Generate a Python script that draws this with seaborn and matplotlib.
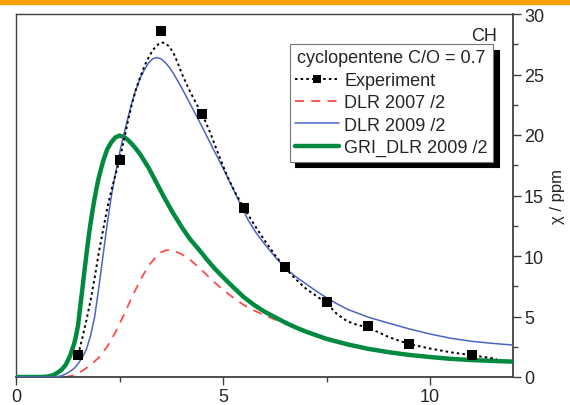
import matplotlib
matplotlib.use("Agg")
import matplotlib.pyplot as plt
from matplotlib.lines import Line2D
from matplotlib.patches import Rectangle
from matplotlib.ticker import MultipleLocator
import seaborn as sns

# ---------------- data ----------------
exp_x = [1.5, 2.5, 3.5, 4.5, 5.5, 6.5, 7.5, 8.5, 9.5, 11.0]
exp_y = [1.8, 17.9, 28.6, 21.7, 14.0, 9.1, 6.2, 4.2, 2.75, 1.85]

expfit_x = [1.5, 1.6, 1.7, 1.8, 1.9, 2.0, 2.1, 2.2, 2.3, 2.4, 2.5, 2.6, 2.7, 2.8,
            2.9, 3.0, 3.1, 3.2, 3.3, 3.4, 3.5, 3.6, 3.7, 3.8, 3.9, 4.0, 4.2, 4.4,
            4.5, 4.7, 4.9, 5.1, 5.3, 5.5, 5.75, 6.0, 6.25, 6.5, 6.75, 7.0, 7.25,
            7.5, 7.75, 8.0, 8.25, 8.5, 8.75, 9.0, 9.25, 9.5, 10.0, 10.5, 11.0,
            11.3, 11.6]
expfit_y = [1.8, 3.2, 4.7, 6.3, 8.2, 10.3, 12.1, 13.9, 15.4, 16.7, 17.9, 19.5,
            21.1, 22.6, 23.8, 24.8, 25.7, 26.4, 27.0, 27.4, 27.65, 27.6, 27.3,
            26.8, 26.0, 25.1, 23.6, 22.3, 21.7, 20.1, 18.3, 16.6, 15.2, 14.0,
            12.6, 11.3, 10.1, 9.0, 8.1, 7.3, 6.7, 6.1, 5.2, 4.6, 4.3, 4.1, 3.7,
            3.3, 3.0, 2.72, 2.35, 2.04, 1.8, 1.65, 1.5]

dlr07_x = [0, 1.2, 1.4, 1.6, 1.8, 2.0, 2.2, 2.4, 2.6, 2.8, 3.0, 3.2, 3.4, 3.5,
           3.6, 3.7, 3.8, 4.0, 4.2, 4.4, 4.6, 4.8, 5.0, 5.25, 5.5, 5.75, 6.0,
           6.5, 7.0, 7.5, 8.0, 8.5, 9.0, 9.5, 10.0, 10.5, 11.0, 11.5, 12.0]
dlr07_y = [0, 0, 0.15, 0.5, 1.0, 1.6, 2.5, 3.7, 5.1, 6.6, 8.0, 9.2, 10.0, 10.3,
           10.45, 10.5, 10.45, 10.15, 9.7, 9.1, 8.45, 7.8, 7.2, 6.55, 5.95, 5.5,
           5.1, 4.4, 3.7, 3.1, 2.65, 2.27, 2.0, 1.78, 1.6, 1.45, 1.35, 1.28, 1.22]

dlr09_x = [0, 0.95, 1.1, 1.2, 1.3, 1.4, 1.5, 1.6, 1.7, 1.8, 1.9, 2.0, 2.1, 2.2,
           2.3, 2.4, 2.5, 2.6, 2.7, 2.8, 2.9, 3.0, 3.1, 3.2, 3.3, 3.4, 3.5, 3.6,
           3.7, 3.8, 3.9, 4.0, 4.2, 4.4, 4.6, 4.8, 5.0, 5.2, 5.4, 5.6, 5.8, 6.0,
           6.25, 6.5, 6.75, 7.0, 7.25, 7.5, 7.75, 8.0, 8.5, 9.0, 9.5, 10.0, 10.5,
           11.0, 11.5, 12.0]
dlr09_y = [0, 0, 0.1, 0.25, 0.45, 0.7, 1.1, 1.6, 2.3, 3.4, 5.0, 7.4, 10.0, 12.6,
           14.9, 16.8, 18.5, 20.0, 21.4, 22.7, 23.8, 24.7, 25.4, 25.95, 26.3,
           26.4, 26.3, 26.0, 25.6, 25.1, 24.5, 23.9, 22.6, 21.3, 19.95, 18.6,
           17.25, 15.85, 14.4, 13.0, 11.9, 11.0, 9.95, 9.0, 8.3, 7.7, 7.1, 6.55,
           6.05, 5.6, 4.95, 4.45, 3.97, 3.55, 3.2, 2.95, 2.78, 2.64]

gri_x = [0, 0.6, 0.75, 0.9, 1.0, 1.1, 1.2, 1.3, 1.4, 1.45, 1.5, 1.55, 1.6, 1.65,
         1.7, 1.75, 1.8, 1.85, 1.9, 1.95, 2.0, 2.1, 2.2, 2.3, 2.4, 2.5, 2.6, 2.7,
         2.8, 2.9, 3.0, 3.2, 3.4, 3.6, 3.8, 4.0, 4.2, 4.4, 4.6, 4.8, 5.0, 5.25,
         5.5, 5.75, 6.0, 6.25, 6.5, 6.75, 7.0, 7.5, 8.0, 8.5, 9.0, 9.5, 10.0,
         10.5, 11.0, 11.5, 12.0]
gri_y = [0, 0, 0.03, 0.15, 0.35, 0.6, 1.0, 1.7, 2.7, 3.4, 4.3, 5.8, 7.2, 8.7,
         10.1, 11.5, 12.7, 13.8, 14.8, 15.7, 16.5, 17.8, 18.8, 19.4, 19.8, 19.95,
         19.85, 19.6, 19.25, 18.85, 18.4, 17.3, 16.0, 14.7, 13.5, 12.4, 11.4,
         10.6, 9.75, 8.95, 8.25, 7.4, 6.6, 5.95, 5.4, 4.95, 4.5, 4.1, 3.75, 3.15,
         2.7, 2.33, 2.05, 1.82, 1.65, 1.5, 1.4, 1.33, 1.27]

legend_title = "cyclopentene C/O = 0.7"
labels = ["Experiment", "DLR 2007 /2", "DLR 2009 /2", "GRI_DLR 2009 /2"]
x_ticks = [0, 5, 10]
y_ticks = [0, 5, 10, 15, 20, 25, 30]

# ---------------- style ----------------
sns.set_style("white")
plt.rcParams["font.family"] = ["Liberation Sans", "DejaVu Sans"]

c_green = "#008a40"
c_blue = "#4c64c4"
c_red = "#ff4a4a"
c_spine = "#404040"

fig = plt.figure(figsize=(5.7, 4.06), dpi=100)
fig.patches.append(Rectangle((0, 1 - 5 / 406), 1, 5 / 406, transform=fig.transFigure,
                             color="#f5a000", zorder=0))
ax = fig.add_axes([16 / 570, 1 - 378 / 406, (513 - 16) / 570, (378 - 15) / 406])

sns.lineplot(x=dlr07_x, y=dlr07_y, ax=ax, color=c_red, lw=1.3, estimator=None,
             sort=False, zorder=2).lines[-1].set_dashes([5, 4])
sns.lineplot(x=gri_x, y=gri_y, ax=ax, color=c_green, lw=3.2, estimator=None,
             sort=False, zorder=3)
sns.lineplot(x=dlr09_x, y=dlr09_y, ax=ax, color=c_blue, lw=1.1, estimator=None,
             sort=False, zorder=4)
sns.lineplot(x=expfit_x, y=expfit_y, ax=ax, color="black", lw=1.4, estimator=None,
             sort=False, zorder=5).lines[-1].set_dashes([1.3, 1.6])
sns.scatterplot(x=exp_x, y=exp_y, ax=ax, marker="s", s=42, color="black",
                edgecolor="black", linewidth=0, zorder=6)

ax.set_xlim(0, 12)
ax.set_ylim(0, 30)
ax.set_xticks(x_ticks)
ax.set_xticklabels([str(t) for t in x_ticks])
ax.set_yticks(y_ticks)
ax.set_yticklabels([str(t) for t in y_ticks])
ax.xaxis.set_minor_locator(MultipleLocator(2.5))
ax.yaxis.set_minor_locator(MultipleLocator(2.5))
ax.yaxis.tick_right()
ax.yaxis.set_label_position("right")
ax.set_ylabel("χ / ppm", fontsize=12, rotation=90, labelpad=4)
ax.set_xlabel("")

ax.tick_params(axis="both", which="major", direction="out", length=6, width=1.0,
               color=c_spine, labelsize=13, pad=2)
ax.tick_params(axis="both", which="minor", direction="out", length=3.5, width=1.0,
               color=c_spine)
ax.tick_params(axis="y", which="both", left=False, right=True)
ax.tick_params(axis="x", which="both", bottom=True, top=False)
for s in ax.spines.values():
    s.set_visible(True)
    s.set_color(c_spine)
    s.set_linewidth(1.0)
ax.spines["right"].set_linewidth(1.3)
ax.spines["bottom"].set_linewidth(1.3)

ax.text(0.968, 0.94, "CH", transform=ax.transAxes, ha="right", va="center",
        fontsize=13)

handles = [
    Line2D([], [], color="black", lw=1.4, dashes=[1.3, 1.6], marker="s",
           markersize=6, markeredgewidth=0),
    Line2D([], [], color=c_red, lw=1.3, dashes=[5, 4]),
    Line2D([], [], color=c_blue, lw=1.1),
    Line2D([], [], color=c_green, lw=3.2),
]
leg = ax.legend(handles, labels, title=legend_title, loc="upper right",
                bbox_to_anchor=((493 - 16) / 497, (378 - 45) / 363),
                borderaxespad=0, fontsize=13, title_fontsize=13,
                frameon=True, fancybox=False, edgecolor="#777777",
                framealpha=1, handlelength=2.4, handletextpad=0.3,
                labelspacing=0.3, borderpad=0.3,
                shadow={"ox": 4, "oy": -4, "color": "black", "alpha": 1})
leg.get_frame().set_linewidth(0.8)
leg.set_zorder(10)

fig.savefig("out.png", dpi=100)
